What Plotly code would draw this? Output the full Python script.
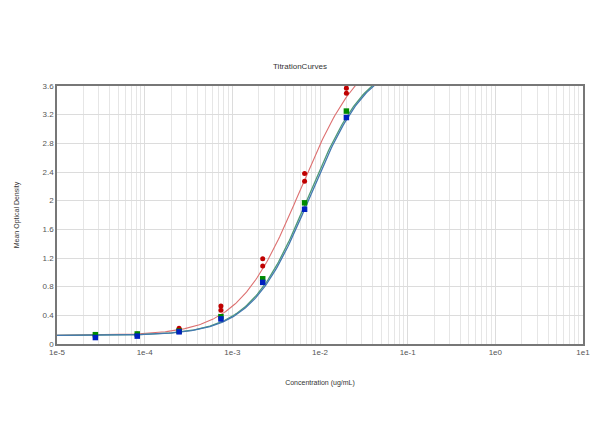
import numpy as np
import plotly.graph_objects as go

# Concentrations (ug/mL), 3-fold dilution series
conc = [2.74e-5, 8.23e-5, 2.47e-4, 7.41e-4, 2.22e-3, 6.67e-3, 2.0e-2]

# Replicate optical densities
red_rep1 = [0.13, 0.14, 0.22, 0.53, 1.19, 2.38, 3.57]
red_rep2 = [0.12, 0.13, 0.20, 0.47, 1.09, 2.27, 3.50]
green_vals = [0.13, 0.14, 0.18, 0.38, 0.91, 1.97, 3.25]
blue_vals = [0.09, 0.11, 0.17, 0.35, 0.86, 1.88, 3.16]

# 4PL fit parameters (bottom, top, EC50, slope) per series
red_fit = [0.12, 4.2, 0.0060, 1.23]
green_fit = [0.12, 4.0, 0.0074, 1.30]
blue_fit = [0.12, 4.0, 0.0077, 1.30]

decades = [1e-5, 1e-4, 1e-3, 1e-2, 1e-1, 1e0, 1e1]
decade_labels = ["1e-5", "1e-4", "1e-3", "1e-2", "1e-1", "1e0", "1e1"]
y_ticks = [0, 0.4, 0.8, 1.2, 1.6, 2, 2.4, 2.8, 3.2, 3.6]

xs = np.logspace(-5, 1, 400)


def four_pl(x, p):
    d, a, c, b = p
    return a + (d - a) / (1 + (x / c) ** b)


minor_vals = [m * d for d in decades[:-1] for m in range(2, 10)]

fig = go.Figure()
fig.add_trace(go.Scatter(x=xs, y=four_pl(xs, red_fit), mode="lines",
                         line=dict(color="#dd7070", width=1.1), showlegend=False))
fig.add_trace(go.Scatter(x=xs, y=four_pl(xs, green_fit), mode="lines",
                         line=dict(color="#4f9a78", width=1.3), showlegend=False))
fig.add_trace(go.Scatter(x=xs, y=four_pl(xs, blue_fit), mode="lines",
                         line=dict(color="#4378b0", width=1.3), showlegend=False))

fig.add_trace(go.Scatter(x=conc, y=red_rep1, mode="markers",
                         marker=dict(color="#c00000", size=5, symbol="circle"), showlegend=False))
fig.add_trace(go.Scatter(x=conc, y=red_rep2, mode="markers",
                         marker=dict(color="#c00000", size=5, symbol="circle"), showlegend=False))
fig.add_trace(go.Scatter(x=conc, y=green_vals, mode="markers",
                         marker=dict(color="#008a00", size=5.5, symbol="square"), showlegend=False))
fig.add_trace(go.Scatter(x=conc, y=blue_vals, mode="markers",
                         marker=dict(color="#0020c0", size=5.5, symbol="square"), showlegend=False))

# page body has an 8px margin, so the figure is offset by 8px
W, H = 592, 439
fig.update_layout(
    width=W, height=H,
    margin=dict(l=49, r=17, t=78, b=103, autoexpand=False),
    paper_bgcolor="white", plot_bgcolor="white",
    title=dict(text="TitrationCurves", x=(300 - 8) / W, xanchor="center", y=1 - 58 / H, yanchor="middle",
               font=dict(family="Liberation Sans, Arial", size=8, color="#333")),
    font=dict(family="Liberation Sans, Arial", size=8, color="#444"),
    xaxis=dict(type="log", range=[-5, 1], tickmode="array", tickvals=decades, ticktext=decade_labels,
               automargin=False,
               showgrid=True, gridcolor="#dcdcdc", gridwidth=1,
               minor=dict(tickmode="array", tickvals=minor_vals, showgrid=True, gridcolor="#e6e6e6"),
               showline=True, linecolor="#777", linewidth=1.5, mirror=True, zeroline=False,
               ticks="", tickfont=dict(size=8, color="#555"),
               title=dict(text="Concentration (ug/mL)", font=dict(size=7, color="#333"), standoff=24)),
    yaxis=dict(range=[0, 3.6], tickmode="array", tickvals=y_ticks,
               ticktext=["0", "0.4", "0.8", "1.2", "1.6", "2", "2.4", "2.8", "3.2", "3.6"],
               automargin=False,
               showgrid=True, gridcolor="#dcdcdc", gridwidth=1,
               showline=True, linecolor="#777", linewidth=1.5, mirror=True, zeroline=False,
               ticks="", tickfont=dict(size=8, color="#555"),
               title=dict(text="Mean Optical Density", font=dict(size=7, color="#333"), standoff=22)),
)

fig.write_html("out.html")
